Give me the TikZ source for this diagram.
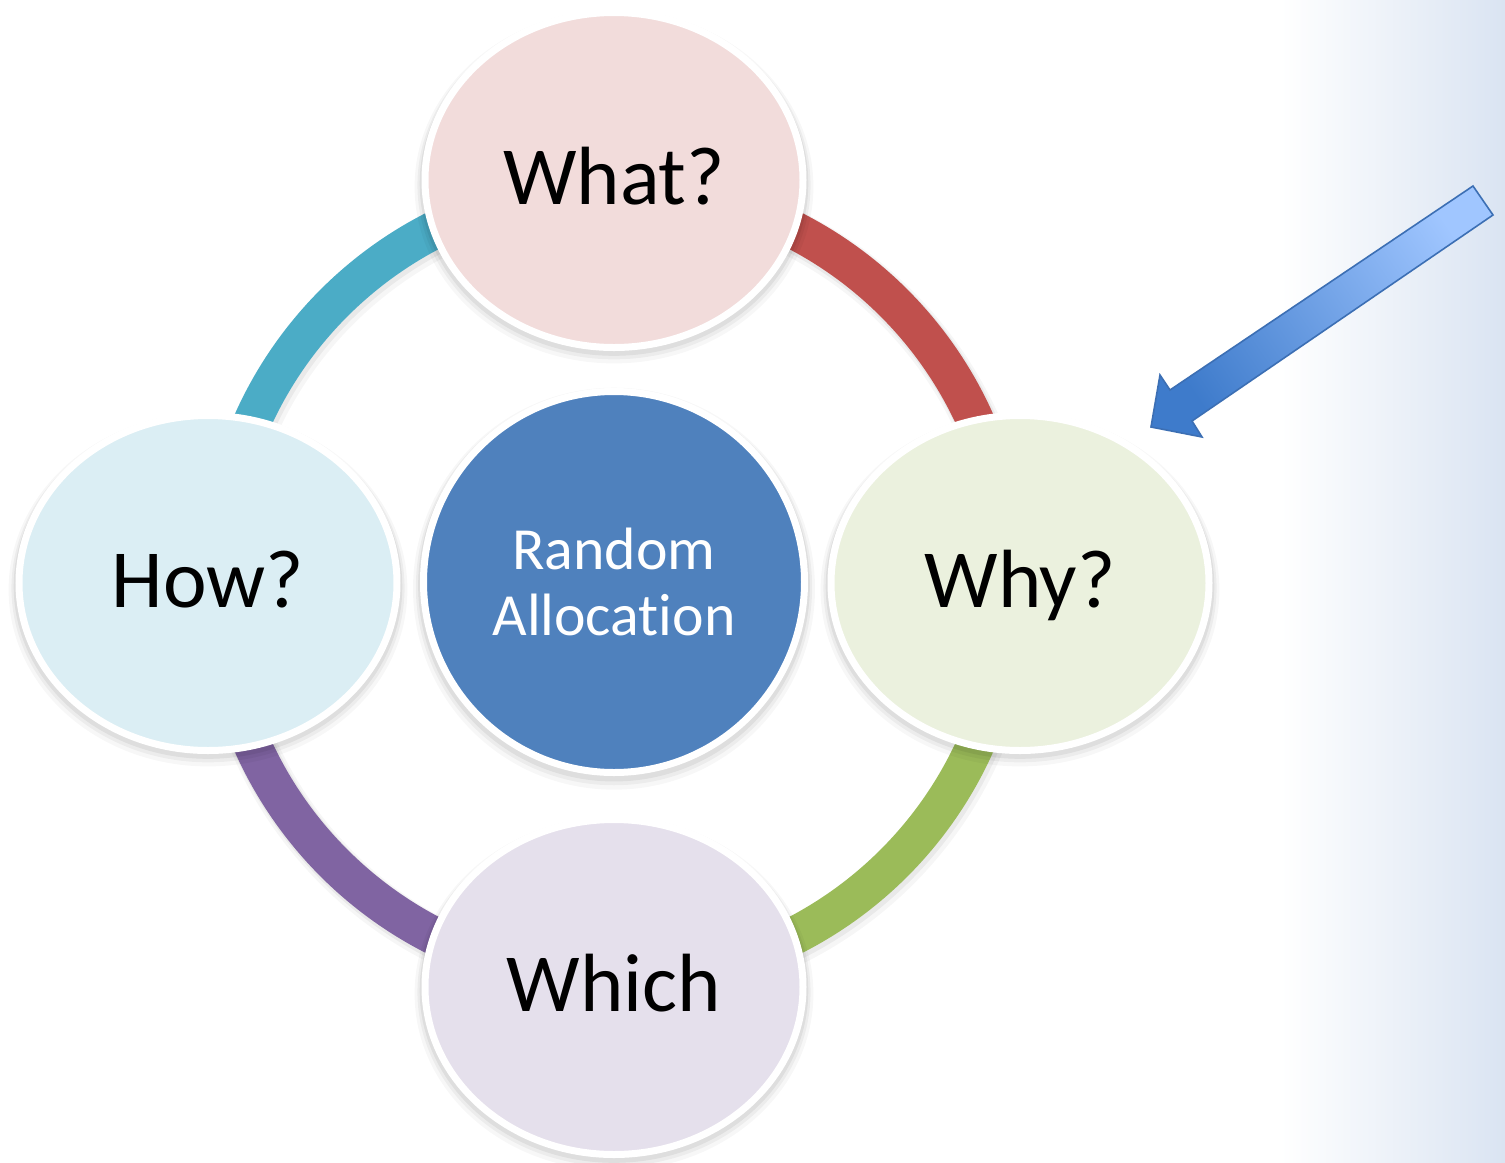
\documentclass[tikz,border=0pt]{standalone}
\usepackage{fontspec}
\setmainfont{Carlito}[Ligatures={NoCommon,NoDiscretionary,NoContextual}]
\usetikzlibrary{shapes.geometric,shadows}

\newlength\upx
\setlength\upx{0.01cm}

\definecolor{whatfill}{HTML}{F2DCDB}
\definecolor{whyfill}{HTML}{EBF1DE}
\definecolor{whichfill}{HTML}{E5E0EC}
\definecolor{howfill}{HTML}{DBEEF4}
\definecolor{corefill}{HTML}{4F81BD}
\definecolor{ringred}{HTML}{C0504D}
\definecolor{ringgreen}{HTML}{9BBB59}
\definecolor{ringpurple}{HTML}{8064A2}
\definecolor{ringcyan}{HTML}{4BACC6}
\definecolor{bgblue}{HTML}{DAE4F2}
\definecolor{arrowlight}{HTML}{A0C6FF}
\definecolor{arrowdark}{HTML}{3E7BCB}
\definecolor{arrowedge}{HTML}{3C6FB4}

\tikzset{
  softshadow/.style={
    general shadow={fill=black, opacity=0.03, shadow scale=1.055, shadow yshift=-1.8pt},
    general shadow={fill=black, opacity=0.045, shadow scale=1.04, shadow yshift=-1.4pt},
    general shadow={fill=black, opacity=0.06, shadow scale=1.028, shadow yshift=-1.0pt}},
  bubble/.style={ellipse, draw=white, line width=7\upx,
    minimum width=378\upx, minimum height=335\upx, inner sep=0pt,
    text height=15pt, text depth=1.2pt,
    font=\fontsize{23.5}{28}\selectfont, softshadow},
  core/.style={circle, draw=white, line width=7\upx, fill=corefill,
    minimum size=381\upx, inner sep=0pt, align=center, text=white,
    font=\fontsize{17}{18.8}\selectfont, softshadow},
  ringarc/.style={line width=38\upx},
}

\begin{document}
\begin{tikzpicture}[x=0.01cm, y=-0.01cm]
  \useasboundingbox (0,0) rectangle (1505,1163);

  % page background with a pale blue fade on the right
  \fill[white] (0,0) rectangle (1505,1163);
  \shade[left color=white, right color=bgblue] (1280,0) rectangle (1505,1163);

  % ring: soft shadow, then four coloured quarters
  \coordinate (hub) at (614,583);
  \draw[black, opacity=0.035, line width=46\upx] (617,588) circle[radius=396];
  \draw[black, opacity=0.05, line width=41\upx] (616,586) circle[radius=396];
  \draw[ringarc, ringred]    (hub) ++(-90:396) arc[start angle=-90, end angle=0,   radius=396];
  \draw[ringarc, ringgreen]  (hub) ++(0:396)   arc[start angle=0,   end angle=90,  radius=396];
  \draw[ringarc, ringpurple] (hub) ++(90:396)  arc[start angle=90,  end angle=180, radius=396];
  \draw[ringarc, ringcyan]   (hub) ++(180:396) arc[start angle=180, end angle=270, radius=396];

  % the five bubbles
  \node[bubble, fill=whatfill]  (what)  at (614,180) {What?};
  \node[bubble, fill=whyfill]   (why)   at (1020,583) {Why?};
  \node[bubble, fill=whichfill] (which) at (614,987) {Which};
  \node[bubble, fill=howfill]   (how)   at (208,583) {How?};
  \node[core] (centre) at (614,582) {Random\\Allocation};

  % block arrow pointing at "Why?"
  \coordinate (tip) at (1151,427);
  \coordinate (b1)  at (1160,375);
  \coordinate (j1)  at (1170,390);
  \coordinate (t1)  at (1473,186);
  \coordinate (t2)  at (1493,215);
  \coordinate (j2)  at (1192,421);
  \coordinate (b2)  at (1202,437);
  \fill[black, opacity=0.12, shift={(0.03,-0.04)}]
    (tip) -- (b1) -- (j1) -- (t1) -- (t2) -- (j2) -- (b2) -- cycle;
  \shadedraw[top color=arrowlight, bottom color=arrowdark, shading angle=-56,
    draw=arrowedge, line width=1.6\upx, line join=miter]
    (tip) -- (b1) -- (j1) -- (t1) -- (t2) -- (j2) -- (b2) -- cycle;
\end{tikzpicture}
\end{document}
